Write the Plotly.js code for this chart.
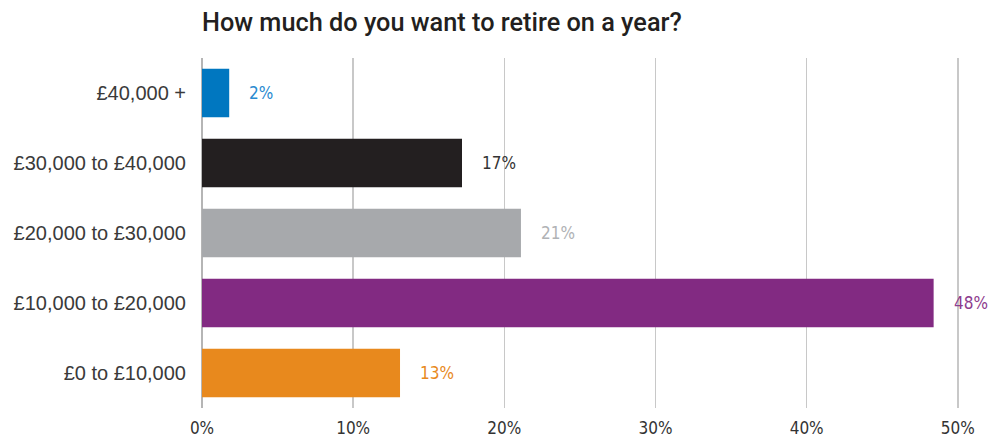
<!DOCTYPE html>
<html><head><meta charset="utf-8">
<script src="https://cdn.plot.ly/plotly-3.0.1.min.js"></script>
<style>body{margin:0;}#chart{width:996px;height:438px;}</style>
</head><body><div id="chart"></div>
<script>
const categories = ["£0 to £10,000","£10,000 to £20,000","£20,000 to £30,000","£30,000 to £40,000","£40,000 +"];
const values = [13.1, 48.4, 21.1, 17.2, 1.8];
const labels = ["13%","48%","21%","17%","2%"];
const barColors = ["#e8891d","#822a82","#a7a9ac","#231f20","#0077c0"];
const labelColors = ["#e8891d","#8e3c8e","#b0b2b5","#333333","#2a8ad0"];
const xTicks = [0,10,20,30,40,50];
const xTickText = ["0%","10%","20%","30%","40%","50%"];

const condensed = "DejaVu Sans Condensed, Liberation Sans Narrow, Arial Narrow, sans-serif";
const trace = {
  type: "bar", orientation: "h",
  y: categories, x: values,
  marker: {color: barColors},
  width: 0.69,
  hoverinfo: "none"
};
const annotations = values.map((v,i)=>({
  x: v, y: categories[i], xref: "x", yref: "y",
  text: labels[i], showarrow: false, xanchor: "left", xshift: 18,
  font: {family: condensed, size: 17, color: labelColors[i], weight: 300}
}));
const layout = {
  width: 996, height: 438,
  margin: {l: 202, r: 14, t: 58, b: 30},
  paper_bgcolor: "#ffffff", plot_bgcolor: "#ffffff",
  title: {text: "How much do you want to retire on a year?", x: 0, xref: "paper", xanchor: "left", y: 0.95, yanchor: "middle",
    font: {family: "Roboto, sans-serif", size: 25.3, color: "#231f20", weight: 500}},
  xaxis: {range: [0, 51.6], tickvals: xTicks, ticktext: xTickText, showgrid: true, gridcolor: "#c8c8c8", gridwidth: 1.5,
    zeroline: true, zerolinecolor: "#b5b5b5", zerolinewidth: 1.5, showline: false, ticks: "",
    ticklabelstandoff: 8,
    tickfont: {family: condensed, size: 17, color: "#333333"}},
  yaxis: {categoryorder: "array", categoryarray: categories, showgrid: false, zeroline: false, showline: false, ticks: "",
    ticklabelstandoff: 15, range: [-0.5, 4.5],
    tickfont: {family: "Liberation Sans, Arial, sans-serif", size: 20, color: "#3a3a3a"}},
  annotations: annotations,
  showlegend: false
};
Plotly.newPlot("chart", [trace], layout, {displayModeBar: false, staticPlot: true});
</script></body></html>
